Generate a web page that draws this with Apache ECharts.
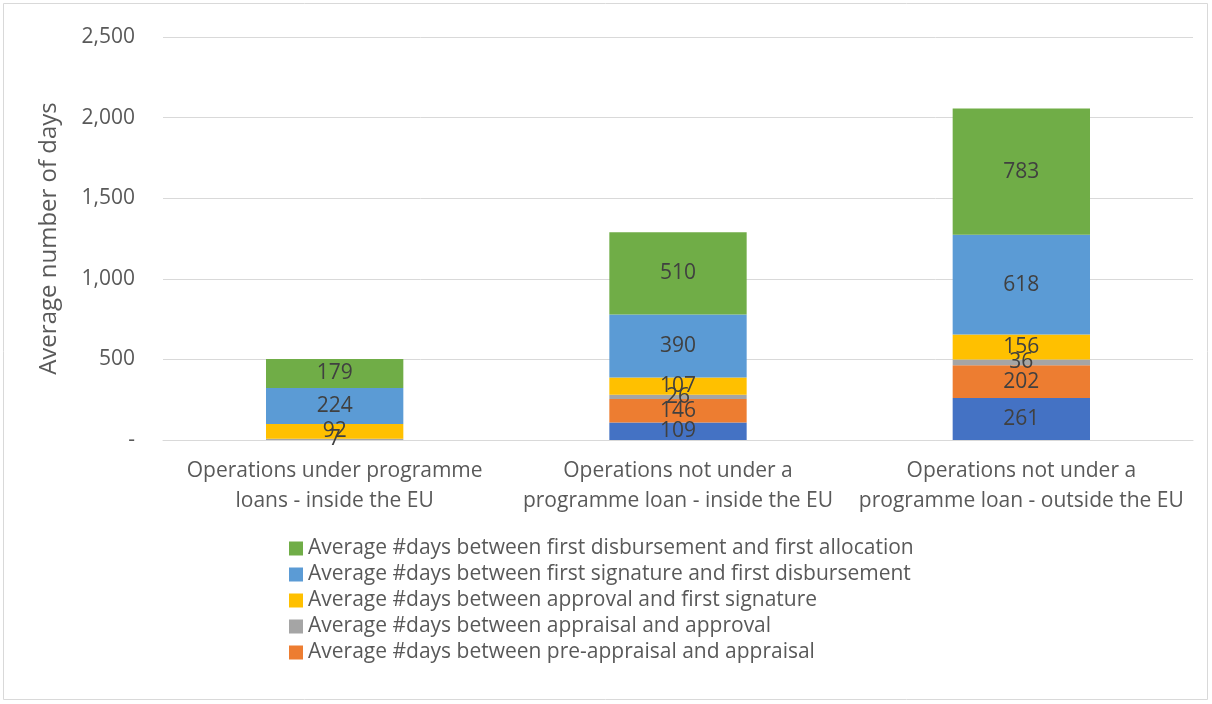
<!DOCTYPE html>
<html>
<head>
<meta charset="utf-8">
<script src="https://cdn.jsdelivr.net/npm/echarts@6/dist/echarts.min.js"></script>
<style>
  html, body { margin: 0; padding: 0; background: #fff; }
  #chart { width: 1212px; height: 704px; }
</style>
</head>
<body>
<div id="chart"></div>
<script>
// categories and series values (bottom to top of each stack)
var categories = [
  "Operations under programme\nloans - inside the EU",
  "Operations not under a\nprogramme loan - inside the EU",
  "Operations not under a\nprogramme loan - outside the EU"
];
var preAppraisalStart = [null, 109, 261];
var preAppraisalToAppraisal = [null, 146, 202];
var appraisalToApproval = [7, 26, 36];
var approvalToSignature = [92, 107, 156];
var signatureToDisbursement = [224, 390, 618];
var disbursementToAllocation = [179, 510, 783];

var names = [
  "Average #days before pre-appraisal",
  "Average #days between pre-appraisal and appraisal",
  "Average #days between appraisal and approval",
  "Average #days between approval and first signature",
  "Average #days between first signature and first disbursement",
  "Average #days between first disbursement and first allocation"
];
var colors = ["#4472C4", "#ED7D31", "#A5A5A5", "#FFC000", "#5B9BD5", "#70AD47"];
var values = [preAppraisalStart, preAppraisalToAppraisal, appraisalToApproval,
  approvalToSignature, signatureToDisbursement, disbursementToAllocation];

var font = "'Open Sans', sans-serif";

var series = [];
for (var i = 0; i < values.length; i++) {
  series.push({
    name: names[i],
    type: "bar",
    stack: "total",
    barWidth: "40%",
    data: values[i],
    itemStyle: { color: colors[i] },
    label: {
      show: true,
      position: "inside",
      color: "#404040",
      fontSize: 21,
      fontFamily: font
    }
  });
}

var chart = echarts.init(document.getElementById("chart"));
chart.setOption({
  animation: false,
  textStyle: { fontFamily: font },
  graphic: [{
    type: "rect",
    shape: { x: 3.5, y: 3.5, width: 1204, height: 696 },
    style: { fill: "none", stroke: "#d9d9d9", lineWidth: 1 },
    z: -1
  }],
  grid: { left: 163, right: 19, top: 37, bottom: 264 },
  legend: {
    orient: "vertical",
    left: 284,
    top: 533,
    itemWidth: 14,
    itemHeight: 14,
    itemGap: 5,
    icon: "rect",
    data: [names[5], names[4], names[3], names[2], names[1]],
    textStyle: { color: "#595959", fontSize: 21, fontFamily: font, lineHeight: 21 }
  },
  xAxis: {
    type: "category",
    data: categories,
    axisTick: { show: false },
    axisLine: { lineStyle: { color: "#d9d9d9" } },
    axisLabel: {
      color: "#595959",
      fontSize: 21,
      lineHeight: 30,
      margin: 16,
      interval: 0
    }
  },
  yAxis: {
    type: "value",
    min: 0,
    max: 2500,
    interval: 500,
    name: "Average number of days",
    nameLocation: "middle",
    nameGap: 102,
    nameTextStyle: { color: "#595959", fontSize: 24 },
    axisLine: { show: false },
    axisTick: { show: false },
    splitLine: { lineStyle: { color: "#d9d9d9" } },
    axisLabel: {
      color: "#595959",
      fontSize: 21,
      margin: 28,
      formatter: function (v) {
        return v === 0 ? "-" : v.toLocaleString("en-US");
      }
    }
  },
  series: series
});
</script>
</body>
</html>
